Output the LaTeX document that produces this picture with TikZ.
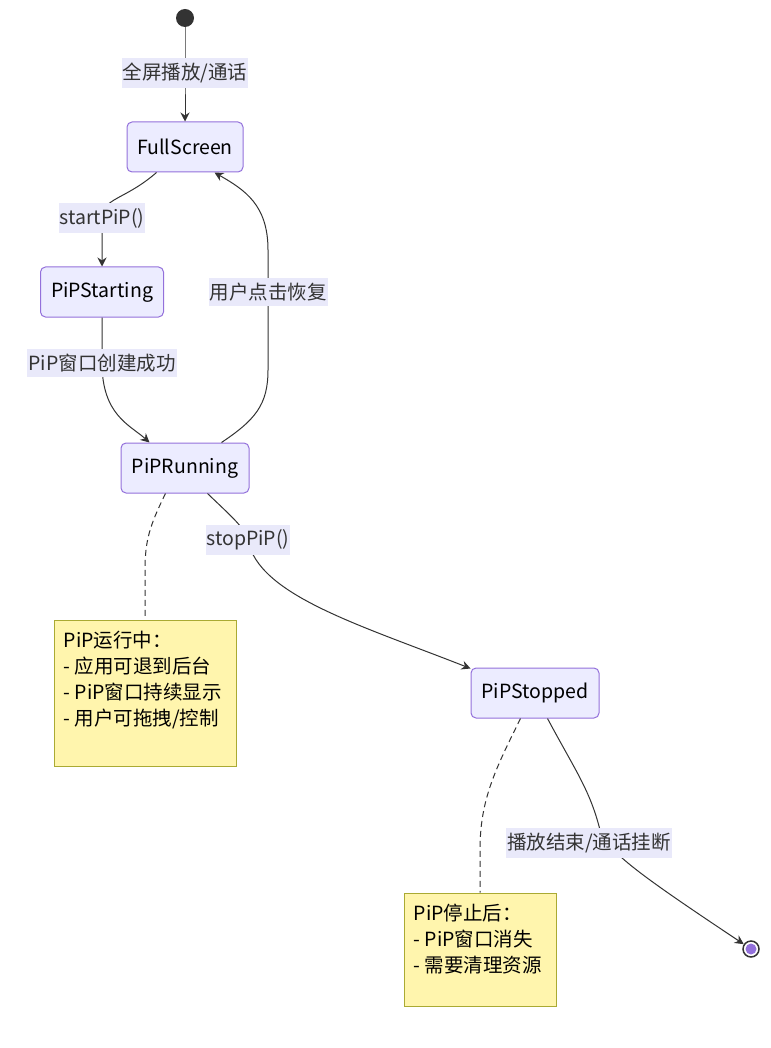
\documentclass[tikz,border=0pt]{standalone}
\usepackage{fontspec}
\setmainfont{Noto Sans CJK SC}
\usetikzlibrary{arrows.meta, positioning}

\definecolor{stfill}{HTML}{ECECFF}
\definecolor{stline}{HTML}{9370DB}
\definecolor{notefill}{HTML}{FFF5AD}
\definecolor{noteline}{HTML}{AAAA33}
\definecolor{edgeclr}{HTML}{333333}
\definecolor{lblfill}{HTML}{E9E9FA}

\begin{document}
\begin{tikzpicture}[
    x=1pt, y=-1pt,
    >={Stealth[length=9pt, width=9pt, inset=3pt]},
    state/.style={draw=stline, fill=stfill, rounded corners=5pt, line width=1pt,
        minimum height=50pt, inner xsep=10pt, text=black,
        font=\fontsize{19.5}{23}\selectfont},
    trans/.style={->, draw=edgeclr, line width=1pt},
    lbl/.style={fill=lblfill, inner xsep=1pt, inner ysep=5pt, text=edgeclr,
        font=\fontsize{19.5}{23}\selectfont},
    note/.style={draw=noteline, fill=notefill, line width=1pt},
    notetext/.style={align=left, anchor=north west, inner sep=0pt, text=black,
        font=\fontsize{19.5}{26}\selectfont},
    notelink/.style={draw=edgeclr, line width=1pt, dash pattern=on 6pt off 4pt},
]
    \useasboundingbox (0,0) rectangle (770,1048);

    % start and end
    \node[circle, fill=edgeclr, minimum size=18pt, inner sep=0pt] (start) at (185,18) {};
    \node[circle, draw=edgeclr, fill=white, line width=1.5pt, minimum size=16pt, inner sep=0pt] (stop) at (751,949) {};
    \fill[stline] (stop.center) circle (5.5pt);

    % states
    \node[state, minimum width=116pt] (full)   at (185,147) {FullScreen};
    \node[state, minimum width=123pt] (pipst)  at (102,292) {PiPStarting};
    \node[state, minimum width=128pt] (piprun) at (185,468) {PiPRunning};
    \node[state, minimum width=128pt] (pipsp)  at (535,693) {PiPStopped};

    % notes
    \node[note, minimum width=182pt, minimum height=146pt] (n1) at (145,693) {};
    \node[notetext] (t1) at ([shift={(10,11)}]n1.north west)
        {PiP运行中：\\- 应用可退到后台\\- PiP窗口持续显示\\- 用户可拖拽/控制};
    \node[note, minimum width=152pt, minimum height=113pt] (n2) at (480,949.5) {};
    \node[notetext] (t2) at ([shift={(10,11)}]n2.north west)
        {PiP停止后：\\- PiP窗口消失\\- 需要清理资源};

    % transitions
    \draw[trans] (start) -- (185,73) node[lbl] {全屏播放/通话} -- (full);
    \draw[trans] ([xshift=30pt]full.south west)
        .. controls (125,200) and (102,198) .. (102,218) node[lbl] {startPiP()}
        -- (pipst.north);
    \draw[trans] (pipst.south) -- (102,363) node[lbl] {PiP窗口创建成功}
        .. controls (102,415) and (130,425) .. ([xshift=29pt]piprun.north west);
    \draw[trans] ([xshift=101pt]piprun.north west)
        .. controls (255,420) and (268,405) .. (268,370)
        -- (268,292) node[lbl] {用户点击恢复}
        -- (268,250) .. controls (268,205) and (245,190) .. ([xshift=88pt]full.south west);
    \draw[trans] ([xshift=87pt]piprun.south west)
        .. controls (232,517) and (245,528) .. (248,540) node[lbl] {stopPiP()}
        .. controls (258,595) and (360,625) .. ([yshift=-1pt]pipsp.north west);
    \draw[trans] ([xshift=77pt]pipsp.south west)
        .. controls (575,770) and (590,790) .. (600,830)
        node[lbl, xshift=-11pt, yshift=-13pt] {播放结束/通话挂断}
        .. controls (608,852) and (640,875) .. (stop);

    % note links
    \draw[notelink] ([xshift=45pt]piprun.south west)
        .. controls (150,525) and (145,540) .. (145,570) -- (n1.north);
    \draw[notelink] ([xshift=50pt]pipsp.south west)
        .. controls (495,770) and (480,800) .. (480,850) -- (n2.north);
\end{tikzpicture}
\end{document}
